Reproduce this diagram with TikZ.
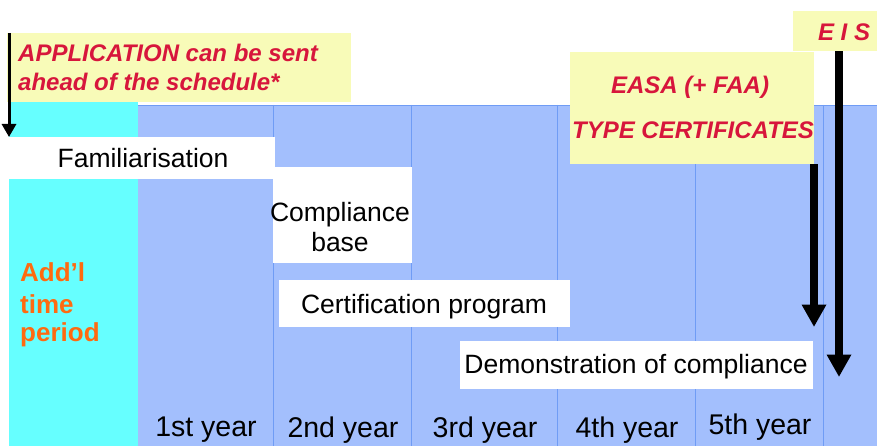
\documentclass[tikz,border=0pt]{standalone}
\usepackage{fontspec}
\setmainfont{Liberation Sans}
\usetikzlibrary{arrows.meta}
\definecolor{planblue}{HTML}{A3BFFD}
\definecolor{gridblue}{HTML}{6F9CF5}
\definecolor{addcyan}{HTML}{66FFFF}
\definecolor{noteyellow}{HTML}{F8FBB8}
\definecolor{notered}{HTML}{D7163C}
\definecolor{addorange}{HTML}{FF6A10}
\tikzset{
  whitebox/.style={fill=white, draw=none, inner sep=0pt},
  notebox/.style={fill=noteyellow, draw=none, inner sep=0pt},
  phasetext/.style={font=\fontsize{26.5}{31}\selectfont, inner sep=0pt},
  yeartext/.style={font=\fontsize{28.5}{33}\selectfont, inner sep=0pt},
  notetext/.style={font=\fontsize{24}{29}\selectfont\bfseries\itshape, text=notered, inner sep=0pt},
  addtext/.style={font=\fontsize{26}{31}\selectfont\bfseries, text=addorange, anchor=west, inner sep=0pt},
  milestone/.style={line width=#1, -{Triangle[width=3.1*#1, length=3*#1]}},
}
\begin{document}
\begin{tikzpicture}[x=1pt,y=-1pt]
\useasboundingbox (0,0) rectangle (877,446);
\fill[white] (0,0) rectangle (877,446);

% yearly columns
\fill[planblue] (138,105) rectangle (877,446);
\draw[gridblue, line width=1pt] (138,105.5) -- (877,105.5);
\foreach \gx in {273,411,557,695,823}
  \draw[gridblue, line width=0.9pt] (\gx,105) -- (\gx,446);
\fill[addcyan] (9,102) rectangle (138,446);

% application note and its arrow
\node[notebox, minimum width=344pt, minimum height=69pt, anchor=north west] (app) at (7,33) {};
\node[notetext, anchor=west] (appA) at (18,53) {APPLICATION can be sent};
\node[notetext, anchor=west] (appB) at (18,82) {ahead of the schedule*};

% phase boxes
\node[whitebox, minimum width=266pt, minimum height=42pt, anchor=north west] (fam) at (9,137) {};
\node[phasetext] (famT) at (143,158) {Familiarisation};

\node[whitebox, minimum width=139pt, minimum height=96pt, anchor=north west] (comp) at (273,167) {};
\node[phasetext, align=center, font=\fontsize{26.5}{30}\selectfont] (compT) at (340,227) {Compliance\\base};

\node[whitebox, minimum width=291pt, minimum height=47pt, anchor=north west] (cert) at (279,280) {};
\node[phasetext] (certT) at (424,307) {Certification program};

\node[whitebox, minimum width=353pt, minimum height=48pt, anchor=north west] (demo) at (460,341) {};
\node[phasetext] (demoT) at (636,367) {Demonstration of compliance};

\coordinate (append) at (9,137);
\draw[line width=3pt, -{Triangle[width=14pt, length=13pt]}] (app.north west -| append) -- (append);

% additional period label
\node[addtext] (addA) at (20,272) {Add’l};
\node[addtext] (addB) at (20,304) {time};
\node[addtext] (addC) at (20,335) {period};

% year labels
\node[yeartext] (y1) at (206,430) {1st year};
\node[yeartext] (y2) at (343,430) {2nd year};
\node[yeartext] (y3) at (485,430) {3rd year};
\node[yeartext] (y4) at (627,430) {4th year};
\node[yeartext] (y5) at (760,427) {5th year};

% certification milestones
\node[notebox, minimum width=244pt, minimum height=112pt, anchor=north west] (tc) at (570,52) {};
\node[notetext] (tcA) at (690,87) {EASA (+ FAA)};
\node[notetext] (tcB) at (693,130) {TYPE CERTIFICATES};

\node[notebox, minimum width=84pt, minimum height=40pt, anchor=north west] (eis) at (793,11) {};
\node[notetext] (eisT) at (844,32) {E I S};

\coordinate (tcend) at (814,327);
\coordinate (eisend) at (839,377);
\draw[milestone=7.5pt] (tc.south -| tcend) -- (tcend);
\draw[milestone=7.5pt] (eis.south -| eisend) -- (eisend);
\end{tikzpicture}
\end{document}
